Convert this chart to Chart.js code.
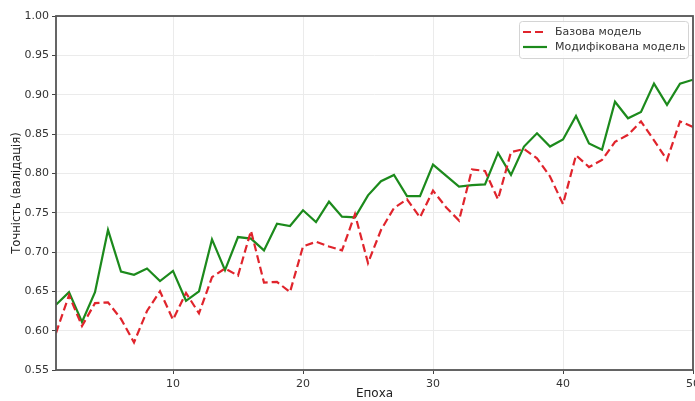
<!DOCTYPE html>
<html>
<head>
<meta charset="utf-8">
<script src="https://cdn.jsdelivr.net/npm/chart.js@4"></script>
<style>
  html, body { margin: 0; padding: 0; background: #fff; }
  #wrap { width: 695px; height: 401px; }
</style>
</head>
<body>
<div id="wrap"><canvas id="mychart"></canvas></div>
<script>
// епохи навчання
const epochs = Array.from({ length: 50 }, (_, i) => i + 1)

const baseAcc = [
    0.597, 0.645, 0.606, 0.635, 0.636, 0.615, 0.585, 0.625, 0.650, 0.614,
    0.648, 0.622, 0.668, 0.679, 0.670, 0.727, 0.661, 0.662, 0.649, 0.707,
    0.713, 0.707, 0.702, 0.748, 0.686, 0.728, 0.756, 0.767, 0.744, 0.778,
    0.757, 0.740, 0.805, 0.803, 0.767, 0.827, 0.831, 0.819, 0.796, 0.761,
    0.823, 0.808, 0.817, 0.840, 0.849, 0.866, 0.842, 0.817, 0.866, 0.859
]

const modAcc = [
    0.633, 0.649, 0.611, 0.649, 0.728, 0.675, 0.671, 0.679, 0.663, 0.676,
    0.638, 0.650, 0.716, 0.677, 0.719, 0.717, 0.702, 0.736, 0.733, 0.753,
    0.738, 0.764, 0.745, 0.744, 0.772, 0.790, 0.798, 0.771, 0.771, 0.811,
    0.797, 0.783, 0.785, 0.786, 0.826, 0.798, 0.834, 0.851, 0.834, 0.843,
    0.873, 0.838, 0.830, 0.891, 0.870, 0.878, 0.914, 0.887, 0.914, 0.919
]

const xTicks = [10, 20, 30, 40, 50]
const yTicks = [0.55, 0.60, 0.65, 0.70, 0.75, 0.80, 0.85, 0.90, 0.95, 1.00]

const seriesNames = ['Базова модель', 'Модифікована модель']

const RED = '#e0242c'
const GREEN = '#1c8a1c'
const FONT = 'DejaVu Sans'

// рамка навколо області графіка
const frame = {
    id: 'frame',
    afterDatasetsDraw(chart) {
        const { ctx, chartArea: a } = chart
        ctx.save()
        ctx.strokeStyle = '#555'
        ctx.lineWidth = 1.8
        ctx.strokeRect(a.left, a.top, a.right - a.left, a.bottom - a.top)
        ctx.restore()
    }
}

// легенда всередині області графіка, праворуч угорі
const legendBox = {
    id: 'legendBox',
    afterDraw(chart) {
        const { ctx, chartArea: a } = chart
        const w = 169, h = 37
        const x = a.right - 5 - w
        const y = a.top + 5
        ctx.save()
        ctx.fillStyle = 'rgba(255,255,255,0.85)'
        ctx.strokeStyle = '#d4d4d4'
        ctx.lineWidth = 1
        ctx.beginPath()
        ctx.roundRect(x + 0.5, y + 0.5, w, h, 3)
        ctx.fill()
        ctx.stroke()

        ctx.font = '11px "' + FONT + '"'
        ctx.textBaseline = 'middle'
        ctx.fillStyle = '#333'
        chart.data.datasets.forEach((ds, i) => {
            const cy = y + 11 + i * 15
            ctx.strokeStyle = ds.borderColor
            ctx.lineWidth = ds.borderWidth
            ctx.setLineDash(ds.borderDash || [])
            ctx.beginPath()
            ctx.moveTo(x + 4, cy)
            ctx.lineTo(x + 28, cy)
            ctx.stroke()
            ctx.setLineDash([])
            ctx.fillText(ds.label, x + 36, cy)
        })
        ctx.restore()
    }
}

const dataConfig = {
    datasets: [{
        label: seriesNames[0],
        data: epochs.map((e, i) => ({ x: e, y: baseAcc[i] })),
        borderColor: RED,
        borderWidth: 2.2,
        borderDash: [8, 4],
        pointRadius: 0,
        tension: 0,
        fill: false
    }, {
        label: seriesNames[1],
        data: epochs.map((e, i) => ({ x: e, y: modAcc[i] })),
        borderColor: GREEN,
        borderWidth: 2.2,
        pointRadius: 0,
        tension: 0,
        fill: false
    }]
}

const config = {
    type: 'line',
    data: dataConfig,
    options: {
        responsive: true,
        maintainAspectRatio: false,
        animation: false,
        layout: { padding: { top: 16, right: 2, left: 0, bottom: 0 } },
        plugins: {
            legend: { display: false },
            tooltip: { enabled: false }
        },
        scales: {
            x: {
                type: 'linear',
                min: 1,
                max: 50,
                afterBuildTicks: (scale) => { scale.ticks = xTicks.map(v => ({ value: v })) },
                afterFit: (scale) => {
                    scale.height = 31
                    scale.paddingLeft = 0
                    scale.paddingRight = 0
                },
                ticks: {
                    color: '#333',
                    font: { family: FONT, size: 11 },
                    padding: 4,
                    maxRotation: 0
                },
                grid: {
                    color: (c) => c.tick && c.tick.value === 50 ? 'rgba(0,0,0,0)' : '#ebebeb',
                    tickColor: '#444',
                    tickLength: 4,
                    lineWidth: 1
                },
                border: { display: false },
                title: {
                    display: true,
                    text: 'Епоха',
                    color: '#222',
                    font: { family: FONT, size: 12 },
                    padding: { top: 0, bottom: 0 }
                }
            },
            y: {
                min: 0.55,
                max: 1.0,
                afterBuildTicks: (scale) => { scale.ticks = yTicks.map(v => ({ value: v })) },
                afterFit: (scale) => {
                    scale.width = 56
                    scale.paddingTop = 0
                    scale.paddingBottom = 0
                },
                ticks: {
                    color: '#333',
                    font: { family: FONT, size: 11 },
                    padding: 3,
                    callback: (v) => Number(v).toFixed(2)
                },
                grid: {
                    color: '#ebebeb',
                    tickColor: '#444',
                    tickLength: 4,
                    lineWidth: 1
                },
                border: { display: false },
                title: {
                    display: true,
                    text: 'Точність (валідація)',
                    color: '#222',
                    font: { family: FONT, size: 11.5 },
                    padding: { top: 10, bottom: 0 }
                }
            }
        }
    },
    plugins: [frame, legendBox]
}

const mychart = new Chart(
    document.querySelector('#mychart'),
    config
)
</script>
</body>
</html>
